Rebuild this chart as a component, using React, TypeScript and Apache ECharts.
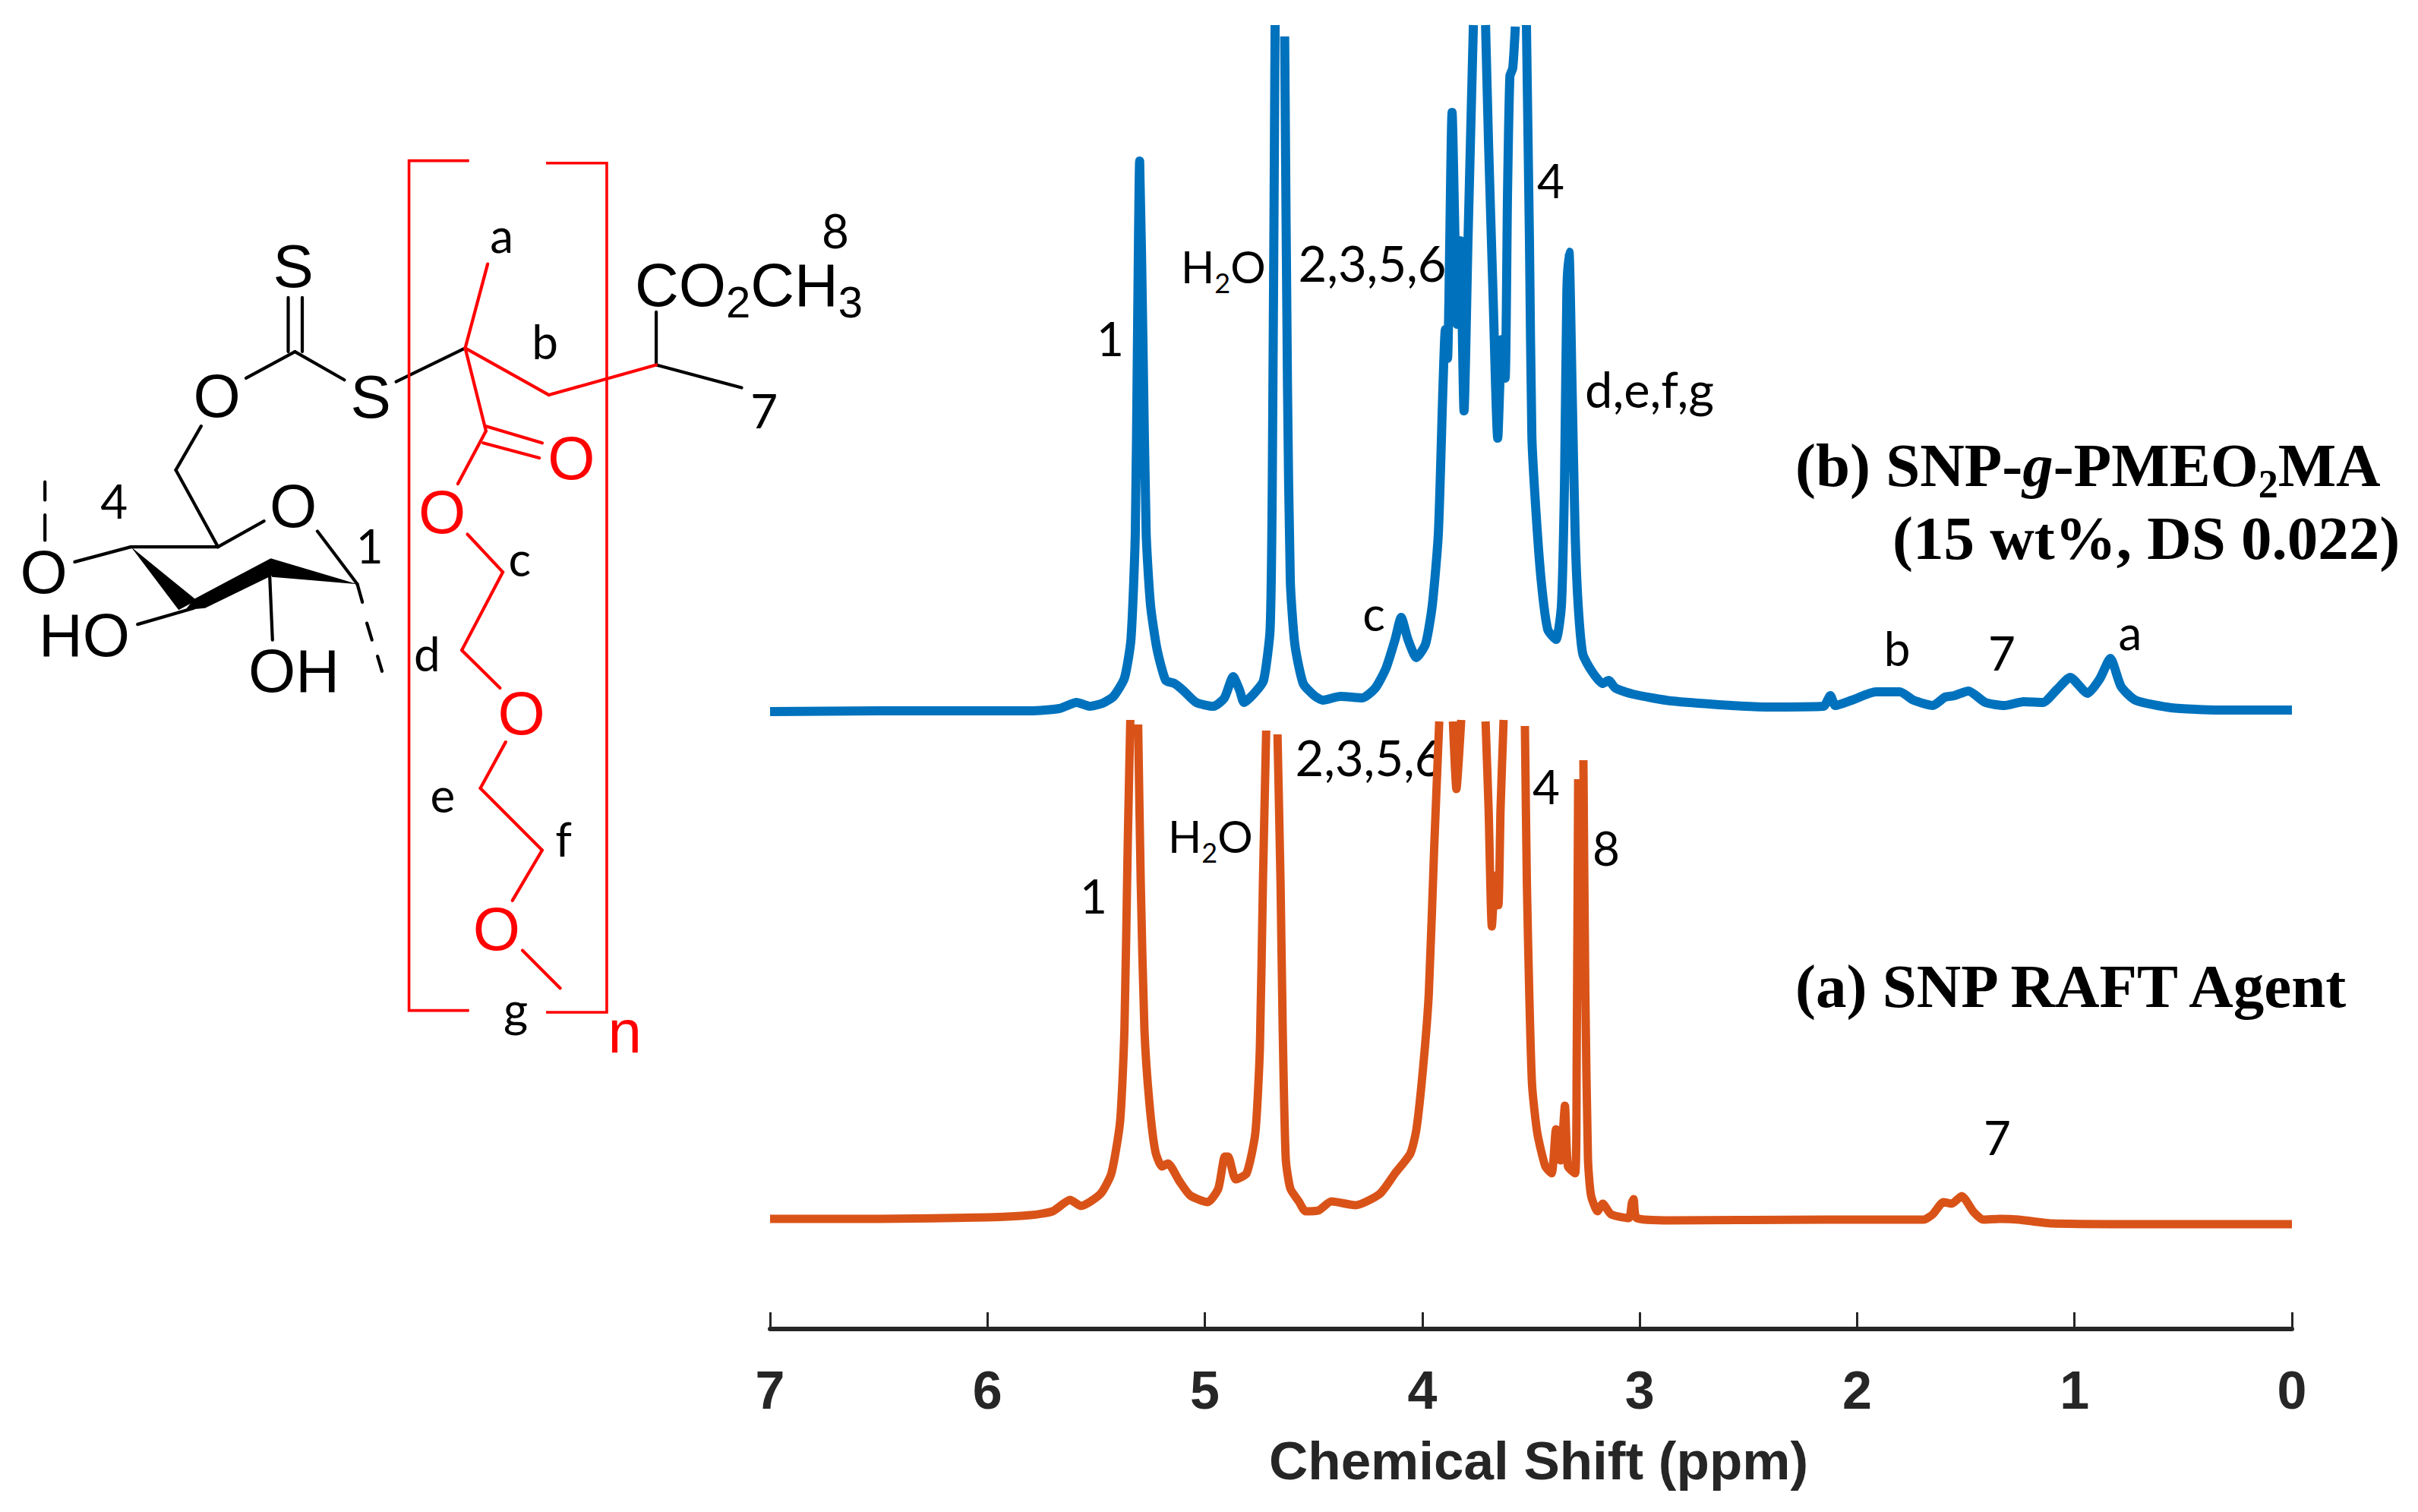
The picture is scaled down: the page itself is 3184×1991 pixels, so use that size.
import React, { useEffect, useRef } from "react";
import * as echarts from "echarts";

const BLUE = "#0072BD";
const ORANGE = "#D95319";
const RED = "#FF0000";

const tickLabels = ["0", "1", "2", "3", "4", "5", "6", "7"];
const xAxisTitle = "Chemical Shift (ppm)";
const seriesNames = ["SNP-g-PMEO2MA", "SNP RAFT Agent"];

const blueShift = [7, 6.5, 6, 5.8, 5.67, 5.59, 5.53, 5.47, 5.42, 5.37, 5.34, 5.32, 5.31, 5.3, 5.285, 5.27, 5.25, 5.22, 5.18, 5.14, 5.1, 5.04, 4.96, 4.91, 4.87, 4.84, 4.82, 4.77, 4.73, 4.7, 4.69, 4.677, 4.655, 4.633, 4.62, 4.607, 4.586, 4.548, 4.497, 4.457, 4.377, 4.275, 4.216, 4.167, 4.125, 4.097, 4.066, 4.027, 3.985, 3.954, 3.926, 3.905, 3.894, 3.884, 3.863, 3.839, 3.825, 3.808, 3.79, 3.765, 3.737, 3.709, 3.695, 3.675, 3.653, 3.634, 3.619, 3.608, 3.597, 3.584, 3.572, 3.547, 3.521, 3.507, 3.496, 3.478, 3.453, 3.423, 3.385, 3.36, 3.346, 3.335, 3.325, 3.311, 3.297, 3.283, 3.262, 3.22, 3.171, 3.143, 3.112, 3.032, 2.854, 2.418, 2.155, 2.123, 2.1, 2.024, 1.914, 1.804, 1.74, 1.652, 1.596, 1.553, 1.488, 1.41, 1.322, 1.234, 1.146, 1.081, 1.02, 0.94, 0.884, 0.835, 0.786, 0.72, 0.555, 0.335, 0];
const blueIntensity = [813, 814, 814, 814, 817, 825, 820, 824, 833, 857, 908, 1048, 1303, 1538, 1303, 1048, 953, 895, 854, 850, 841, 825, 820, 831, 859, 841, 825, 838, 854, 921, 1112, 1717, null, 1702, 1240, 985, 901, 850, 834, 828, 833, 831, 844, 870, 908, 937, 908, 884, 902, 953, 1048, 1240, 1316, 1278, 1602, 1323, 1433, 1209, 1431, 1717, null, 1717, 1559, 1367, 1173, 1303, 1252, 1495, 1650, 1660, 1715, null, 1717, 1431, 1176, 1080, 985, 921, 908, 953, 1112, 1367, 1418, 1240, 1048, 953, 889, 866, 850, 854, 844, 836, 827, 819, 820, 834, 821, 828, 839, 839, 828, 821, 832, 834, 840, 825, 821, 826, 825, 842, 858, 837, 856, 883, 846, 828, 818, 815, 815];

const orangeShift = [7, 6.5, 6, 5.8, 5.7, 5.62, 5.57, 5.48, 5.43, 5.39, 5.37, 5.355, 5.343, 5.325, 5.307, 5.295, 5.278, 5.255, 5.228, 5.198, 5.17, 5.118, 5.068, 4.987, 4.938, 4.908, 4.893, 4.858, 4.808, 4.768, 4.747, 4.733, 4.718, 4.69, 4.666, 4.652, 4.642, 4.628, 4.607, 4.568, 4.537, 4.478, 4.418, 4.307, 4.195, 4.125, 4.055, 4.027, 3.996, 3.97, 3.945, 3.922, 3.89, 3.859, 3.843, 3.821, 3.76, 3.709, 3.695, 3.68, 3.664, 3.65, 3.64, 3.626, 3.58, 3.528, 3.519, 3.508, 3.495, 3.471, 3.434, 3.405, 3.385, 3.364, 3.344, 3.33, 3.297, 3.29, 3.283, 3.27, 3.259, 3.25, 3.238, 3.224, 3.194, 3.17, 3.132, 3.05, 3.036, 3.028, 3.014, 2.857, 2.155, 1.694, 1.652, 1.603, 1.565, 1.519, 1.464, 1.42, 1.344, 1.257, 1.104, 0.664, 0];
const orangeIntensity = [145, 145, 147, 150, 155, 170, 162, 178, 205, 273, 394, 636, 802, null, 796, 588, 394, 297, 234, 214, 218, 195, 176, 167, 185, 227, 227, 197, 205, 258, 370, 588, 788, null, 783, 588, 394, 224, 185, 168, 155, 156, 168, 163, 178, 205, 231, 263, 345, 442, 636, 800, null, 800, 711, 802, null, 800, 685, 530, 597, 558, 685, 802, null, 794, 588, 442, 321, 258, 214, 205, 263, 222, 294, 214, 205, 345, 724, null, 749, 442, 224, 176, 155, 165, 151, 146, 166, 171, 146, 143, 144, 144, 151, 167, 165, 175, 154, 144, 145, 144, 139, 138, 138];

const X = (x: number) => x * 0.7398;
const Y = (y: number) => 180 + y * 0.7908;

type P = [number, number];
const blackBonds: [P, P][] = [
  [[513, 268], [513, 358]], [[538, 268], [538, 358]], [[438, 402], [525, 358]], [[525, 358], [613, 405]],
  [[358, 482], [313, 555]], [[313, 555], [388, 683]], [[388, 683], [470, 640]], [[565, 657], [636, 745]],
  [[233, 683], [388, 683]], [[233, 683], [133, 708]], [[80, 575], [80, 605]], [[80, 630], [80, 672]],
  [[245, 812], [345, 785]], [[480, 730], [485, 838]], [[636, 745], [645, 775]], [[653, 810], [662, 838]],
  [[672, 865], [680, 890]], [[705, 408], [828, 352]], [[1168, 380], [1320, 418]], [[1168, 380], [1168, 292]],
];
const redBonds: [P, P][] = [
  [[828, 352], [868, 212]], [[828, 352], [977, 430]], [[977, 430], [1168, 380]], [[828, 352], [865, 490]],
  [[865, 482], [965, 510]], [[860, 510], [960, 535]], [[865, 490], [815, 578]], [[832, 662], [895, 725]],
  [[895, 725], [822, 855]], [[822, 855], [890, 918]], [[900, 1008], [855, 1085]], [[855, 1085], [965, 1188]],
  [[965, 1188], [912, 1272]], [[930, 1355], [997, 1418]],
];
const wedges: P[][] = [
  [[233, 683], [350, 772], [318, 788]],
  [[345, 770], [482, 702], [490, 728], [365, 785], [330, 788]],
  [[482, 702], [636, 745], [484, 733]],
];
const brackets: P[][] = [
  [[835, 40], [728, 40], [728, 1455], [835, 1455]],
  [[972, 44], [1080, 44], [1080, 1458], [972, 1458]],
];
const atoms: [string, number, number, string][] = [
  ["S", 522, 215, "#000"], ["O", 386, 432, "#000"], ["S", 660, 433, "#000"], ["O", 522, 615, "#000"],
  ["O", 78, 725, "#000"], ["HO", 150, 830, "#000"], ["OH", 523, 890, "#000"], ["O", 1017, 535, RED],
  ["O", 787, 625, RED], ["O", 928, 960, RED], ["O", 884, 1320, RED], ["n", 1112, 1490, RED],
];
const structureLabels: [string, number, number][] = [
  ["a", 893, 163], ["b", 970, 340], ["8", 1487, 155], ["7", 1360, 455], ["4", 203, 606], ["1", 658, 680],
  ["c", 925, 702], ["d", 760, 860], ["e", 788, 1095], ["f", 1003, 1168], ["g", 918, 1452],
];
const peakLabels: [string, number, number][] = [
  ["1", 1462, 445], ["2,3,5,6", 1807, 346], ["4", 2042, 237], ["d,e,f,g", 2172, 512], ["c", 1809, 807],
  ["b", 2498, 853], ["7", 2636, 859], ["a", 2805, 832], ["1", 1440, 1179], ["2,3,5,6", 1803, 997],
  ["4", 2036, 1035], ["8", 2115, 1116], ["7", 2630, 1497],
];

const pairs = (xs: number[], ys: (number | null)[]) => xs.map((x, i) => [x, ys[i]]);

function buildGraphic() {
  const els: any[] = [];
  const bond = (seg: [P, P], color: string) =>
    els.push({
      type: "line",
      shape: { x1: X(seg[0][0]), y1: Y(seg[0][1]), x2: X(seg[1][0]), y2: Y(seg[1][1]) },
      style: { stroke: color, lineWidth: 4.2, lineCap: "round" },
    });
  blackBonds.forEach((s) => bond(s, "#000"));
  redBonds.forEach((s) => bond(s, RED));
  wedges.forEach((w) =>
    els.push({ type: "polygon", shape: { points: w.map((p) => [X(p[0]), Y(p[1])]) }, style: { fill: "#000" } })
  );
  brackets.forEach((b) =>
    els.push({
      type: "polyline",
      shape: { points: b.map((p) => [X(p[0]), Y(p[1])]) },
      style: { stroke: RED, lineWidth: 3.6, fill: "none" },
    })
  );
  const text = (t: string, x: number, y: number, fontFamily: string, fontSize: number, fill: string) =>
    els.push({
      type: "text",
      x,
      y,
      style: { text: t, fontFamily, fontSize, fill, align: "center", verticalAlign: "middle" },
    });
  atoms.forEach(([t, x, y, c]) => text(t, X(x), Y(y), "Liberation Sans", 80, c));
  structureLabels.forEach(([t, x, y]) => text(t, X(x), Y(y), "Lato", 62, "#000"));
  peakLabels.forEach(([t, x, y]) => text(t, x, y, "Lato", t.length > 1 ? 65 : 62, "#000"));

  const chemRich = (fam: string, M: number, S: number, d: number, weight = "normal") => {
    const h = Math.max(2, 2 * (0.15 * M + 0.35 * S - d));
    const base = { fontFamily: fam, fontWeight: weight, fill: "#000", verticalAlign: "bottom" };
    return {
      n: { ...base, fontSize: M, height: M, lineHeight: M },
      s: { ...base, fontSize: S, height: h, lineHeight: h },
      i: { ...base, fontSize: M, height: M, lineHeight: M, fontStyle: "italic" },
    };
  };
  const rich = (t: string, x: number, y: number, r: any) =>
    els.push({ type: "text", x, y, style: { text: t, rich: r, align: "left", verticalAlign: "middle" } });

  rich("{n|H}{s|2}{n|O}", 1555, 350, chemRich("Lato", 58, 36, 14));
  rich("{n|H}{s|2}{n|O}", 1538, 1100, chemRich("Lato", 58, 36, 14));
  rich("{n|CO}{s|2}{n|CH}{s|3}", 836, 375, chemRich("Liberation Sans", 80, 58, 15));
  const serif = chemRich("Liberation Serif", 81, 52, 14, "bold");
  rich("{n|(b) SNP-}{i|g}{n|-PMEO}{s|2}{n|MA}", 2364, 613, serif);
  rich("{n|(15 wt%, DS 0.022)}", 2492, 709, serif);
  rich("{n|(a) SNP RAFT Agent}", 2364, 1299, serif);
  return els;
}

export default function App() {
  const ref = useRef<HTMLDivElement>(null);
  useEffect(() => {
    const chart = echarts.init(ref.current!, null, { renderer: "svg" });
    chart.setOption({
      animation: false,
      backgroundColor: "#ffffff",
      grid: { left: 1014, top: 0, width: 2004, height: 1750, containLabel: false },
      xAxis: {
        type: "value",
        inverse: true,
        min: 0,
        max: 7,
        interval: 1,
        splitLine: { show: false },
        axisLine: { show: true, onZero: false, lineStyle: { color: "#262626", width: 6 } },
        axisTick: { show: true, inside: true, length: 22, lineStyle: { color: "#262626", width: 3 } },
        axisLabel: {
          formatter: (v: number) => tickLabels[v],
          color: "#262626",
          fontFamily: "Liberation Sans",
          fontWeight: "bold",
          fontSize: 70,
          margin: 46,
        },
        name: xAxisTitle,
        nameLocation: "middle",
        nameGap: 138,
        nameTextStyle: { color: "#262626", fontFamily: "Liberation Sans", fontWeight: "bold", fontSize: 71, padding: [0, 0, 0, 20] },
      },
      yAxis: { type: "value", min: 0, max: 1750, show: false },
      series: [
        {
          name: seriesNames[0],
          type: "line",
          data: pairs(blueShift, blueIntensity),
          showSymbol: false,
          connectNulls: false,
          smooth: 0.2,
          lineStyle: { color: BLUE, width: 12, join: "round", cap: "butt" },
        },
        {
          name: seriesNames[1],
          type: "line",
          data: pairs(orangeShift, orangeIntensity),
          showSymbol: false,
          connectNulls: false,
          smooth: 0.2,
          lineStyle: { color: ORANGE, width: 11, join: "round", cap: "butt" },
        },
      ],
      graphic: { elements: buildGraphic() },
    });
    return () => chart.dispose();
  }, []);
  return <div ref={ref} style={{ position: "fixed", left: 0, top: 0, width: 3184, height: 1991 }} />;
}
